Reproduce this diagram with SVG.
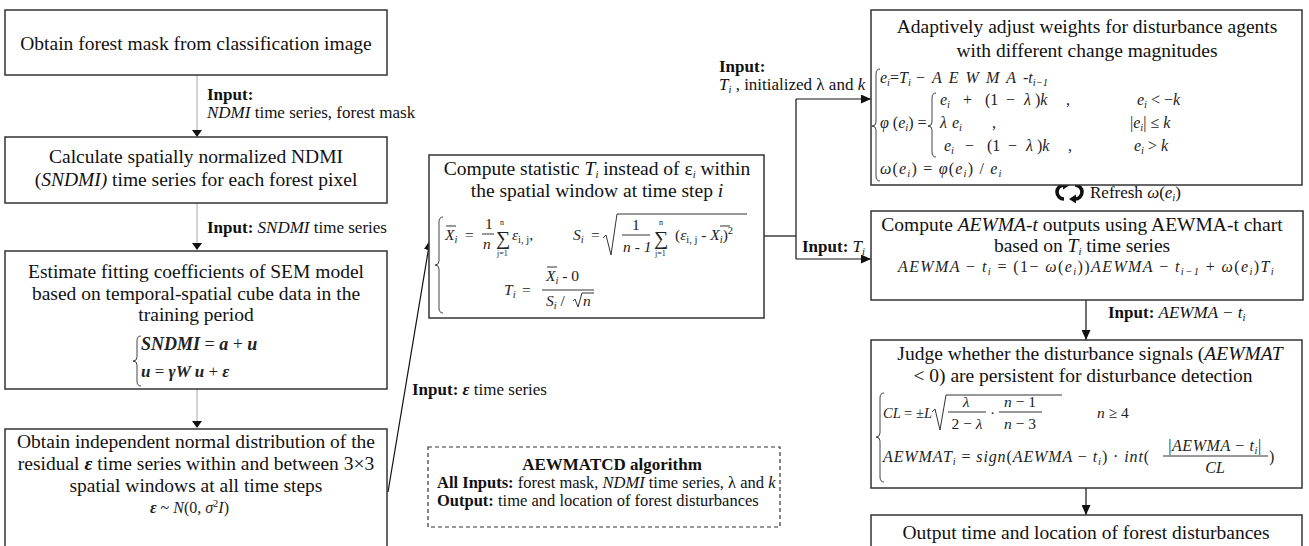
<svg xmlns="http://www.w3.org/2000/svg" width="1309" height="546" viewBox="0 0 1309 546">
<style>
.box{fill:#fff;stroke:#333;stroke-width:1.5}
.note{fill:#fff;stroke:#333;stroke-width:1.2;stroke-dasharray:4 3}
.t{font-family:"Liberation Serif","Times New Roman",serif;font-size:19.5px;fill:#111}
.c{text-anchor:middle}
.lbl{font-family:"Liberation Serif","Times New Roman",serif;font-size:17px;fill:#111}
.m{font-family:"Liberation Serif","Times New Roman",serif;font-style:italic;font-size:15.5px;fill:#222}
.mm{font-size:16px}
.u{font-style:normal}
.i{font-style:italic}
.b{font-weight:bold}
.s{font-size:10.5px}
.gray{stroke:#c8c8c8;stroke-width:1.6;fill:none}
.blk{stroke:#111;stroke-width:1.2;fill:none}
.br{stroke:#444;stroke-width:1;fill:none}
.ln{stroke:#333;stroke-width:1;fill:none}
</style>
<defs>
<marker id="ah" markerUnits="userSpaceOnUse" markerWidth="10" markerHeight="9" viewBox="0 0 10 9" refX="10" refY="4.5" orient="auto">
<path d="M0,0 L10,4.5 L0,9 z" fill="#111"/>
</marker>
</defs>

<!-- connectors -->
<g id="connectors">
<line class="gray" x1="197" y1="75" x2="197" y2="130"/>
<path d="M192,130 L202,130 L197,137 z" fill="#111"/>
<line class="gray" x1="197" y1="203" x2="197" y2="243"/>
<path d="M192,243 L202,243 L197,250 z" fill="#111"/>
<line class="gray" x1="197" y1="389" x2="197" y2="421"/>
<path d="M192,421 L202,421 L197,428 z" fill="#111"/>
<line class="blk" x1="388" y1="492" x2="430" y2="240" marker-end="url(#ah)"/>
<polyline class="blk" points="764,236 796,236"/>
<line class="blk" x1="796" y1="99" x2="796" y2="259"/>
<line class="blk" x1="796" y1="99" x2="871" y2="99" marker-end="url(#ah)"/>
<line class="blk" x1="796" y1="259" x2="871" y2="259" marker-end="url(#ah)"/>
<line class="blk" x1="1086" y1="300" x2="1086" y2="340" marker-end="url(#ah)"/>
<line class="blk" x1="1086" y1="488" x2="1086" y2="515" marker-end="url(#ah)"/>
<!-- connector labels -->
<text class="lbl" x="207" y="100"><tspan class="b">Input:</tspan></text>
<text class="lbl" x="207" y="118"><tspan class="i">NDMI</tspan> time series, forest mask</text>
<text class="lbl" x="207" y="233"><tspan class="b">Input:</tspan> <tspan class="i">SNDMI</tspan> time series</text>
<text class="lbl" x="412" y="395"><tspan class="b">Input: </tspan><tspan class="i b">ε</tspan> time series</text>
<text class="lbl" x="719" y="72"><tspan class="b">Input:</tspan></text>
<text class="lbl" x="719" y="90"><tspan class="i">T</tspan><tspan class="i s" dy="3">i</tspan><tspan dy="-3"> , initialized λ and </tspan><tspan class="i">k</tspan></text>
<text class="lbl" x="802" y="252"><tspan class="b">Input: </tspan><tspan class="i">T</tspan><tspan class="i s" dy="3">i</tspan></text>
<text class="lbl" x="1108" y="318"><tspan class="b">Input: </tspan><tspan class="i"> AEWMA − t</tspan><tspan class="i s" dy="3">i</tspan></text>
<!-- refresh cycle -->
<path d="M1064,199 A7,7 0 1 1 1064,185" stroke="#111" stroke-width="3.6" fill="none"/>
<path d="M1063,180.5 L1070,185 L1063,189.5 z" fill="#111"/>
<path d="M1075,185 A7,7 0 1 1 1075,199" stroke="#111" stroke-width="3.6" fill="none"/>
<path d="M1076,194.5 L1069,199 L1076,203.5 z" fill="#111"/>
<text class="lbl" x="1090" y="198">Refresh <tspan class="i">ω</tspan>(<tspan class="i">e</tspan><tspan class="i s" dy="3">i</tspan><tspan dy="-3">)</tspan></text>
</g>

<!-- forest mask -->
<g id="n1">
<rect class="box" x="5" y="10" width="382" height="65"/>
<text class="t c" x="196" y="50">Obtain forest mask from classification image</text>
</g>

<!-- SNDMI -->
<g id="n2">
<rect class="box" x="5" y="137" width="382" height="66"/>
<text class="t c" x="196" y="163">Calculate spatially normalized NDMI</text>
<text class="t c" x="196" y="186">(<tspan class="i">SNDMI)</tspan> time series for each forest pixel</text>
</g>

<!-- SEM model -->
<g id="n3">
<rect class="box" x="5" y="251" width="382" height="138"/>
<text class="t c" x="196" y="278">Estimate fitting coefficients of SEM model</text>
<text class="t c" x="196" y="300">based on temporal-spatial cube data in the</text>
<text class="t c" x="196" y="321">training period</text>
<path class="br" d="M141,336 Q137,336 137,341 L137,357 Q137,361 133,361 Q137,361 137,365 L137,381 Q137,386 141,386"/>
<text class="m b" x="141" y="350" style="font-size:18px">SNDMI <tspan class="u" style="font-weight:normal">=</tspan> a <tspan class="u" style="font-weight:normal">+</tspan> u</text>
<text class="m b" x="141" y="377" style="font-size:17px">u <tspan class="u" style="font-weight:normal">=</tspan> γW u <tspan class="u" style="font-weight:normal">+</tspan> ε</text>
</g>

<!-- residual -->
<g id="n4">
<rect class="box" x="5" y="429" width="382" height="130"/>
<text class="t c" x="196" y="448">Obtain independent normal distribution of the</text>
<text class="t c" x="196" y="470">residual <tspan class="i b">ε</tspan> time series within and between 3×3</text>
<text class="t c" x="196" y="492">spatial windows at all time steps</text>
<text class="m" x="150" y="513" style="font-size:16px"><tspan class="b">ε</tspan> <tspan class="u">~</tspan> N<tspan class="u">(0, </tspan>σ<tspan class="u s" dy="-6">2</tspan><tspan dy="6">I</tspan><tspan class="u">)</tspan></text>
</g>

<!-- T statistic -->
<g id="n5">
<rect class="box" x="429" y="155" width="335" height="163"/>
<text class="t c" x="597" y="175">Compute  statistic <tspan class="i">T</tspan><tspan class="i s" dy="3">i</tspan><tspan dy="-3"> instead of ε</tspan><tspan class="i s" dy="3">i</tspan><tspan dy="-3"> within</tspan></text>
<text class="t c" x="597" y="197">the spatial window at time step <tspan class="i">i</tspan></text>
<path class="br" d="M443,217 Q439,217 439,222 L439,261 Q439,265 435,265 Q439,265 439,269 L439,308 Q439,313 443,313"/>
<!-- mean -->
<line class="ln" x1="446" y1="226" x2="456" y2="226"/>
<text class="m" x="445" y="240">X<tspan class="s" dy="3">i</tspan></text>
<text class="m u" x="465" y="240">=</text>
<text class="m u" x="485" y="229">1</text>
<line class="ln" x1="482" y1="234" x2="494" y2="234"/>
<text class="m" x="483" y="249">n</text>
<text class="m u" x="496" y="245" style="font-size:20px">∑</text>
<text class="m u" x="500" y="225" style="font-size:8px">n</text>
<text class="m u" x="497" y="256" style="font-size:8px">j=1</text>
<text class="m" x="512" y="240">ε<tspan class="u s" dy="3">i, j</tspan><tspan class="u" dy="-3">,</tspan></text>
<!-- standard deviation -->
<text class="m" x="573" y="240">S<tspan class="s" dy="3">i</tspan></text>
<text class="m u" x="591" y="240">=</text>
<path class="ln" d="M603,238 L606,235 L611,255 L617,214 L747,214"/>
<text class="m u" x="632" y="230">1</text>
<line class="ln" x1="622" y1="235" x2="650" y2="235"/>
<text class="m" x="623" y="252">n - 1</text>
<text class="m u" x="654" y="245" style="font-size:20px">∑</text>
<text class="m u" x="659" y="225" style="font-size:8px">n</text>
<text class="m u" x="655" y="256" style="font-size:8px">j=1</text>
<line class="ln" x1="720" y1="226" x2="730" y2="226"/>
<text class="m" x="675" y="240"><tspan class="u">(</tspan>ε<tspan class="u s" dy="3">i, j</tspan><tspan class="u" dy="-3"> - </tspan>X<tspan class="s" dy="3">i</tspan><tspan class="u" dy="-3">)</tspan><tspan class="u s" dy="-6">2</tspan></text>
<!-- T -->
<text class="m" x="504" y="295">T<tspan class="s" dy="3">i</tspan></text>
<text class="m u" x="522" y="295">=</text>
<line class="ln" x1="547" y1="267" x2="557" y2="267"/>
<text class="m" x="546" y="281">X<tspan class="s" dy="3">i</tspan><tspan class="u" dy="-3"> - 0</tspan></text>
<line class="ln" x1="542" y1="290" x2="594" y2="290"/>
<text class="m" x="546" y="306">S<tspan class="s" dy="3">i</tspan><tspan class="u" dy="-3"> / </tspan></text>
<path class="ln" d="M573,301 L575,299 L578,307 L582,293 L594,293"/>
<text class="m" x="583" y="306">n</text>
</g>

<!-- adaptive weights -->
<g id="n6">
<rect class="box" x="871" y="10" width="431" height="175"/>
<text class="t c" x="1087" y="33">Adaptively adjust weights for disturbance agents</text>
<text class="t c" x="1087" y="57">with different change magnitudes</text>
<path class="br" d="M880,69 Q876,69 876,74 L876,122 Q876,126 872,126 Q876,126 876,130 L876,176 Q876,181 880,181"/>
<text class="m mm" x="880" y="83">e<tspan class="s" dy="3">i</tspan><tspan class="u" dy="-3">=</tspan>T<tspan class="s" dy="3">i</tspan><tspan class="u" x="916" dy="-3">−</tspan><tspan x="932" letter-spacing="7">AEWMA</tspan>-t<tspan class="s" dy="3">i−1</tspan></text>
<text class="m mm" x="880" y="128">φ<tspan class="u"> (</tspan>e<tspan class="s" dy="3">i</tspan><tspan class="u" dy="-3">) =</tspan></text>
<path class="br" d="M936,93 Q932,93 932,98 L932,122 Q932,126 928,126 Q932,126 932,130 L932,152 Q932,157 936,157"/>
<text class="m mm" x="940" y="105">e<tspan class="s" dy="3">i</tspan><tspan class="u" x="963" dy="-3">+</tspan><tspan class="u" x="985">(1</tspan><tspan class="u" x="1006">−</tspan><tspan x="1024">λ</tspan><tspan class="u" x="1035">)</tspan>k<tspan class="u" x="1066">,</tspan></text>
<text class="m mm" x="940" y="128">λ<tspan x="952">e</tspan><tspan class="s" dy="3">i</tspan><tspan class="u" x="992" dy="-3">,</tspan></text>
<text class="m mm" x="944" y="151">e<tspan class="s" dy="3">i</tspan><tspan class="u" x="965" dy="-3">−</tspan><tspan class="u" x="987">(1</tspan><tspan class="u" x="1008">−</tspan><tspan x="1026">λ</tspan><tspan class="u" x="1037">)</tspan>k<tspan class="u" x="1068">,</tspan></text>
<text class="m mm" x="1137" y="105">e<tspan class="s" dy="3">i</tspan><tspan class="u" dy="-3"> &lt; −</tspan>k</text>
<text class="m mm" x="1130" y="128"><tspan class="u">|</tspan>e<tspan class="s" dy="3">i</tspan><tspan class="u" dy="-3">| ≤ </tspan>k</text>
<text class="m mm" x="1134" y="151">e<tspan class="s" dy="3">i</tspan><tspan class="u" dy="-3"> &gt; </tspan>k</text>
<text class="m mm" x="880" y="174" letter-spacing="1.2">ω<tspan class="u">(</tspan>e<tspan class="s" dy="3">i</tspan><tspan class="u" dy="-3">) = </tspan>φ<tspan class="u">(</tspan>e<tspan class="s" dy="3">i</tspan><tspan class="u" dy="-3">) / </tspan>e<tspan class="s" dy="3">i</tspan></text>
</g>

<!-- AEWMA-t outputs -->
<g id="n7">
<rect class="box" x="871" y="211" width="432" height="89"/>
<text class="t c" x="1082" y="231">Compute <tspan class="i">AEWMA-t</tspan> outputs using AEWMA-t chart</text>
<text class="t c" x="1082" y="252">based on <tspan class="i">T</tspan><tspan class="i s" dy="3">i</tspan><tspan dy="-3"> time series</tspan></text>
<text class="m mm" x="898" y="272" letter-spacing="1.4">AEWMA <tspan class="u">−</tspan> t<tspan class="s" dy="3">i</tspan><tspan class="u" dy="-3"> = (1− </tspan>ω<tspan class="u">(</tspan>e<tspan class="s" dy="3">i</tspan><tspan class="u" dy="-3">))</tspan>AEWMA <tspan class="u">−</tspan> t<tspan class="s" dy="3">i−1</tspan><tspan class="u" dy="-3"> + </tspan>ω<tspan class="u">(</tspan>e<tspan class="s" dy="3">i</tspan><tspan class="u" dy="-3">)</tspan>T<tspan class="s" dy="3">i</tspan></text>
</g>

<!-- persistence judgement -->
<g id="n8">
<rect class="box" x="871" y="340" width="431" height="148"/>
<text class="t c" x="1090" y="360">Judge whether the disturbance signals (<tspan class="i">AEWMAT</tspan></text>
<text class="t c" x="1083" y="382">&lt; 0) are persistent for disturbance detection</text>
<path class="br" d="M884,393 Q880,393 880,398 L880,433 Q880,437 876,437 Q880,437 880,441 L880,477 Q880,482 884,482"/>
<text class="m" x="883" y="418" style="font-size:14.5px">CL <tspan class="u">= ±</tspan>L</text>
<path class="ln" d="M932,412 L935,409 L940,430 L946,395 L1062,395"/>
<text class="m c" x="966" y="407">λ</text>
<line class="ln" x1="948" y1="412" x2="986" y2="412"/>
<text class="m c" x="967" y="429"><tspan class="u">2 − </tspan>λ</text>
<text class="m u" x="990" y="418">·</text>
<text class="m c" x="1020" y="407">n <tspan class="u">− 1</tspan></text>
<line class="ln" x1="999" y1="412" x2="1042" y2="412"/>
<text class="m c" x="1020" y="429">n <tspan class="u">− 3</tspan></text>
<text class="m" x="1097" y="418">n <tspan class="u">≥ 4</tspan></text>
<text class="m mm" x="883" y="462" letter-spacing="0.9">AEWMAT<tspan class="s" dy="3">i</tspan><tspan class="u" dy="-3"> = </tspan>sign<tspan class="u">(</tspan>AEWMA <tspan class="u">−</tspan> t<tspan class="s" dy="3">i</tspan><tspan class="u" dy="-3">) · </tspan>int<tspan class="u">(</tspan></text>
<text class="m mm c" x="1215" y="451" letter-spacing="0.6"><tspan class="u">|</tspan>AEWMA <tspan class="u">−</tspan> t<tspan class="s" dy="3">i</tspan><tspan class="u" dy="-3">|</tspan></text>
<line class="ln" x1="1163" y1="456" x2="1268" y2="456"/>
<text class="m mm c" x="1215" y="473">CL</text>
<text class="m mm u" x="1269" y="462">)</text>
</g>

<!-- final output -->
<g id="n9">
<rect class="box" x="871" y="515" width="431" height="45"/>
<text class="t c" x="1086" y="539">Output time and location of forest disturbances</text>
</g>

<!-- algorithm summary -->
<g id="note">
<rect class="note" x="428" y="447" width="352" height="80"/>
<text class="lbl c b" x="612" y="470">AEWMATCD algorithm</text>
<text class="lbl" x="437" y="488" style="font-size:16.5px"><tspan class="b">All Inputs:</tspan> forest mask, <tspan class="i">NDMI</tspan> time series, λ and <tspan class="i">k</tspan></text>
<text class="lbl" x="437" y="506" style="font-size:16.5px"><tspan class="b">Output:</tspan> time and location of forest disturbances</text>
</g>
</svg>
